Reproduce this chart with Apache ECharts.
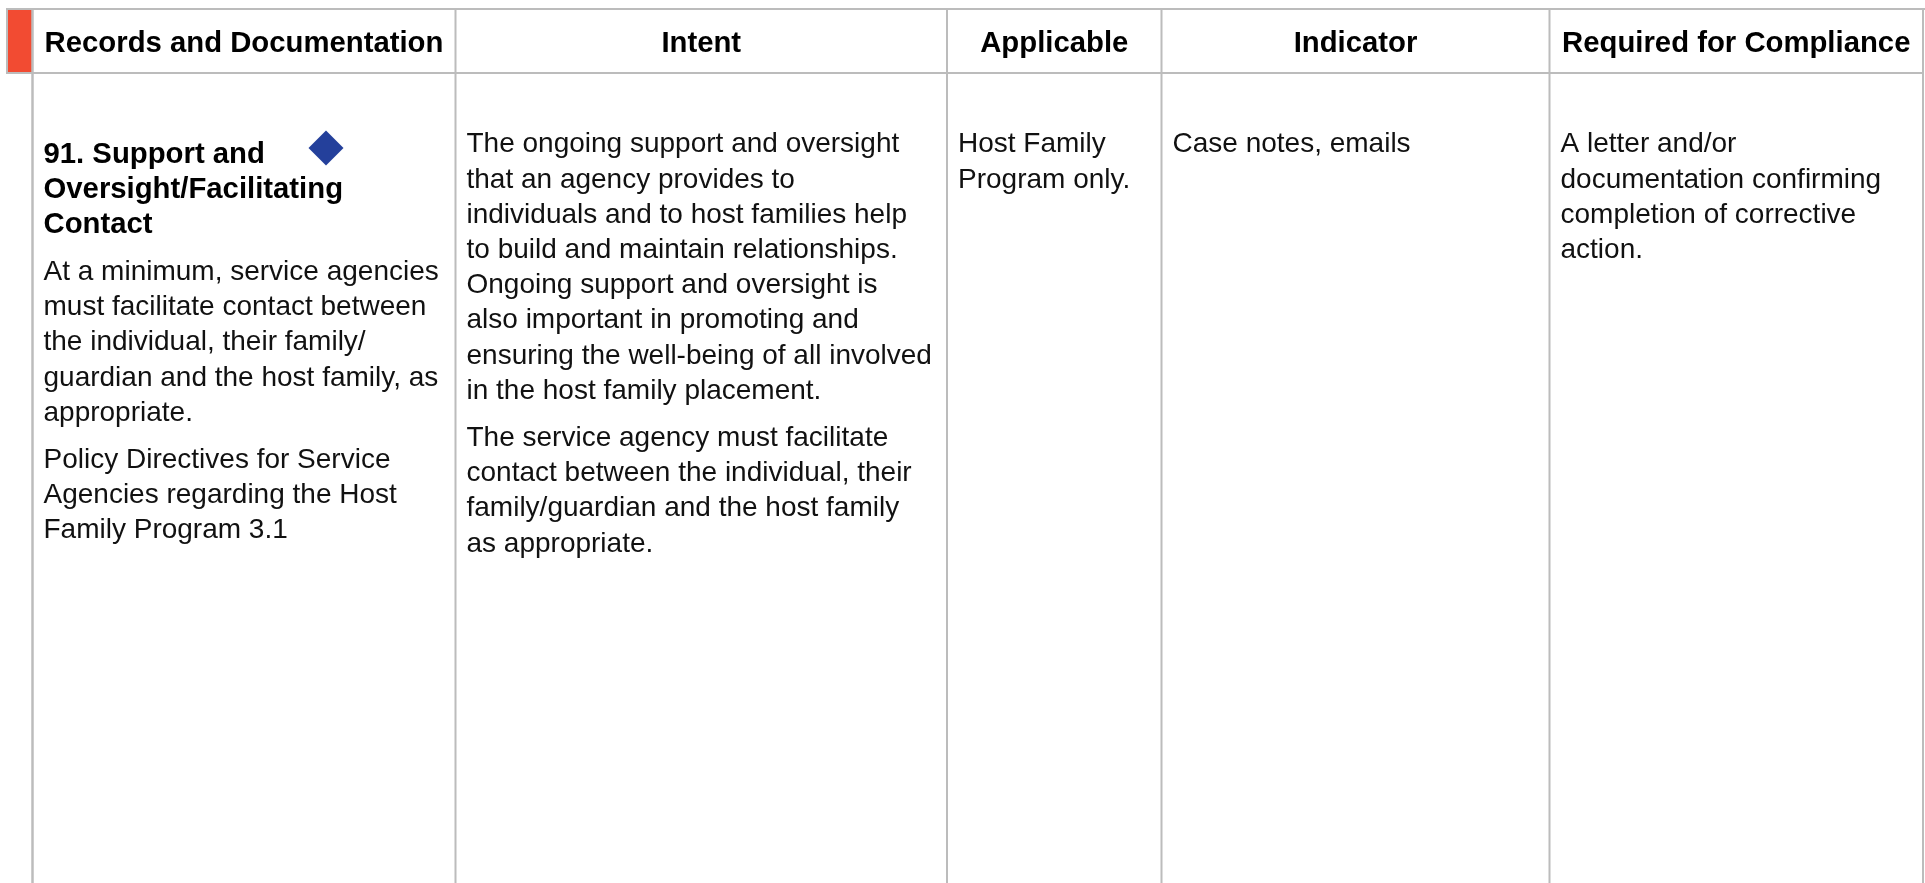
<!DOCTYPE html>
<html><head><meta charset="utf-8">
<script src="https://cdn.jsdelivr.net/npm/echarts@6/dist/echarts.min.js"></script>
<style>html,body{margin:0;padding:0;background:#fff;overflow:hidden;}#c{width:1925px;height:883px;}</style>
</head><body><div id="c"></div>
<script>
// ---------- content (data) ----------
const headers = ['Records and Documentation', 'Intent', 'Applicable', 'Indicator', 'Required for Compliance'];
const recordTitle = ['91. Support and', 'Oversight/Facilitating', 'Contact'];
const recordParagraphs = [
  ['At a minimum, service agencies', 'must facilitate contact between', 'the individual, their family/', 'guardian and the host family, as', 'appropriate.'],
  ['Policy Directives for Service', 'Agencies regarding the Host', 'Family Program 3.1']
];
const intentParagraphs = [
  ['The ongoing support and oversight', 'that an agency provides to', 'individuals and to host families help', 'to build and maintain relationships.', 'Ongoing support and oversight is', 'also important in promoting and', 'ensuring the well-being of all involved', 'in the host family placement.'],
  ['The service agency must facilitate', 'contact between the individual, their', 'family/guardian and the host family', 'as appropriate.']
];
const applicableParagraphs = [['Host Family', 'Program only.']];
const indicatorParagraphs = [['Case notes, emails']];
const complianceParagraphs = [['A letter and/or', 'documentation confirming', 'completion of corrective', 'action.']];

// ---------- layout & style ----------
const FONT = "'Liberation Sans', Arial, Helvetica, sans-serif";
const L = {
  cols: [32.5, 455.5, 947, 1161.5, 1549.5, 1923],
  top: 9, headBottom: 73, left: 7, bottom: 883,
  lineH: 35.2, paraGap: 12, padX: 11,
  headerBaseline: 54, bodyBaseline: 154.5, titleBaseline: 165,
  size: 28, boldSize: 29.3,
  border: '#bcbcbc', accent: '#f24b32', marker: '#24409b', text: '#111111'
};

const els = [];
function line(x1, y1, x2, y2, w) {
  els.push({type: 'line', silent: true, shape: {x1, y1, x2, y2},
    style: {stroke: L.border, lineWidth: w || 2}});
}
function text(str, x, baseline, size, bold, align) {
  els.push({type: 'text', silent: true, x: x, y: baseline - 0.35 * size,
    style: {text: str, font: (bold ? 'bold ' : '') + size + 'px ' + FONT,
      fill: bold ? '#000' : L.text,
      align: align || 'left', textAlign: align || 'left',
      verticalAlign: 'middle', textVerticalAlign: 'middle'}});
}
function paragraphs(paras, x, startBaseline, size, bold, lh) {
  let b = startBaseline;
  const step = lh || L.lineH;
  paras.forEach((p, pi) => {
    if (pi > 0) b += L.paraGap;
    p.forEach(s => { text(s, x, b, size, bold); b += step; });
  });
  return b; // baseline where next line would start
}

// accent bar
els.push({type: 'rect', silent: true, shape: {x: 8, y: 9, width: 24, height: 64}, style: {fill: L.accent}});

// grid lines
line(L.left, L.top, 1925, L.top);
line(L.left, L.headBottom, L.cols[5], L.headBottom);
line(L.left, L.top - 1, L.left, L.headBottom + 1);
line(L.cols[0], L.top - 1, L.cols[0], L.bottom, 2.5);
for (let i = 1; i < L.cols.length; i++) line(L.cols[i], L.top - 1, L.cols[i], L.bottom);

// headers
headers.forEach((h, i) => text(h, (L.cols[i] + L.cols[i + 1]) / 2, L.headerBaseline, L.boldSize, true, 'center'));

// column 1
const next = paragraphs([recordTitle], L.cols[0] + L.padX, L.titleBaseline, L.boldSize, true, 35);
paragraphs(recordParagraphs, L.cols[0] + L.padX, next + L.paraGap, L.size, false);
// marker diamond
const mx = 326, my = 148, r = 17.5;
els.push({type: 'polygon', silent: true, shape: {points: [[mx, my - r], [mx + r, my], [mx, my + r], [mx - r, my]]},
  style: {fill: L.marker}});

// other columns
paragraphs(intentParagraphs, L.cols[1] + L.padX, L.bodyBaseline, L.size, false);
paragraphs(applicableParagraphs, L.cols[2] + L.padX, L.bodyBaseline, L.size, false);
paragraphs(indicatorParagraphs, L.cols[3] + L.padX, L.bodyBaseline, L.size, false);
paragraphs(complianceParagraphs, L.cols[4] + L.padX, L.bodyBaseline, L.size, false);

const chart = echarts.init(document.getElementById('c'), null, {renderer: 'canvas'});
chart.setOption({backgroundColor: '#ffffff', animation: false, graphic: {elements: els}});
</script>
</body></html>
